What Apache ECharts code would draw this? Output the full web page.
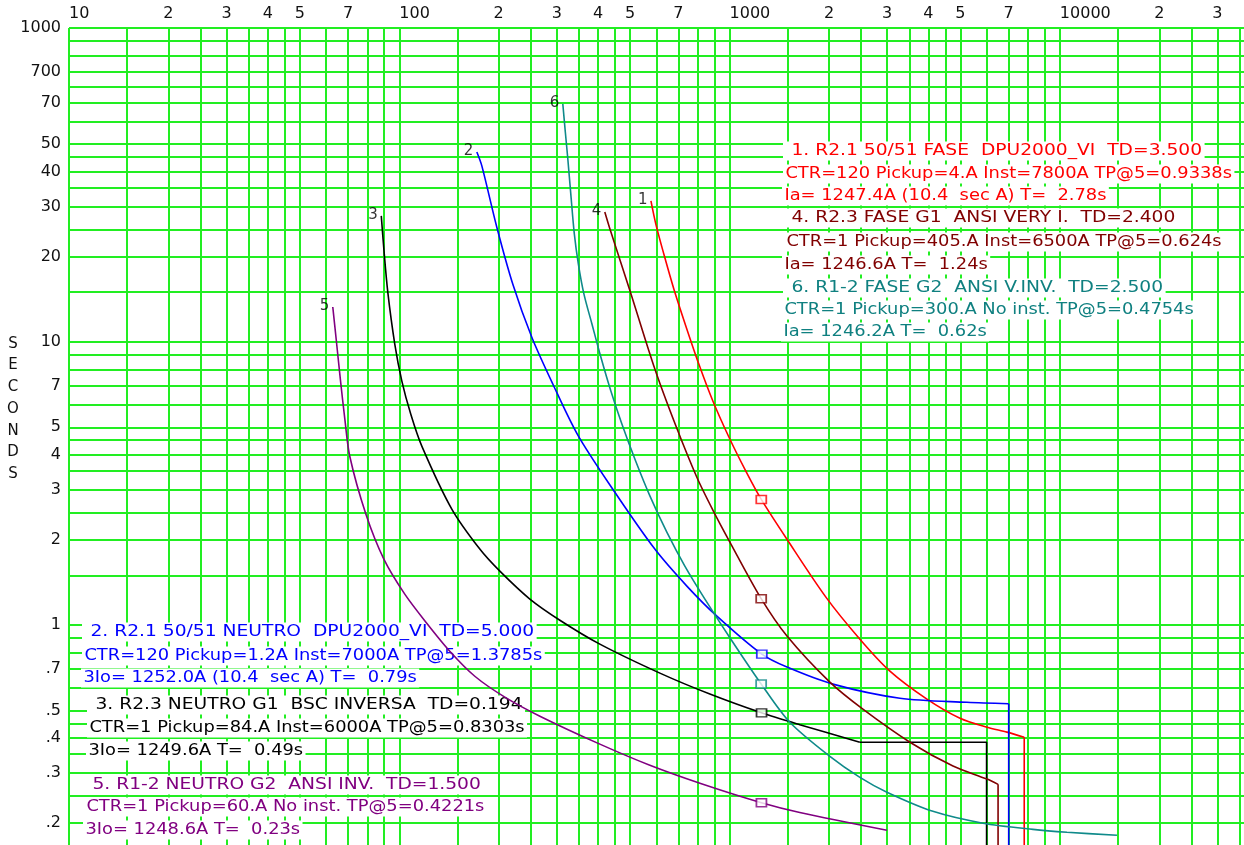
<!DOCTYPE html>
<html><head><meta charset="utf-8">
<script src="https://cdn.jsdelivr.net/npm/echarts@6/dist/echarts.min.js"></script>
<style>html,body{margin:0;padding:0;background:#fff}#c{width:1244px;height:845px}</style>
</head><body><div id="c"></div>
<script>
// ---------------- data ----------------
const gridMantissas = [1, 1.5, 2, 2.5, 3, 3.5, 4, 4.5, 5, 6, 7, 8, 9];
const xDecades = [10, 100, 1000, 10000];
const yDecades = [0.1, 1, 10];
const yTopGrid = [700, 800, 900, 1000];          // values above the axis break
const xMin = 10, xMax = 36100;
const yMin = 0.1673, yMax = 1000;
const yBreak = [90, 700];

const xLabelVals = [10, 20, 30, 40, 50, 70, 100, 200, 300, 400, 500, 700, 1000, 2000, 3000, 4000, 5000, 7000, 10000, 20000, 30000];
const xLabelText = ['10', '2', '3', '4', '5', '7', '100', '2', '3', '4', '5', '7', '1000', '2', '3', '4', '5', '7', '10000', '2', '3'];
const yLabelVals = [1000, 700, 70, 50, 40, 30, 20, 10, 7, 5, 4, 3, 2, 1, 0.7, 0.5, 0.4, 0.3, 0.2];
const yLabelText = ['1000', '700', '70', '50', '40', '30', '20', '10', '7', '5', '4', '3', '2', '1', '.7', '.5', '.4', '.3', '.2'];

// inverse-time parts of the curves: [current (A), time (s)]
const curve1 = [[578,31.5],[598,26.1],[632,20.5],[678,15.4],[737,11.4],[807,8.36],[890,6.19],[995,4.62],[1120,3.5],[1247.4,2.78],[1492,2.01],[1957,1.256],[2481,0.892],[3058,0.688],[3958,0.548],[4984,0.469],[6016,0.436],[6916,0.419],[7800,0.402]];
const curve2 = [[171.7,46.9],[177.8,41.9],[197.3,25.5],[220.7,16.0],[251.9,10.4],[291.6,7.11],[347.2,4.69],[443.1,3.02],[593.9,1.856],[742.5,1.374],[915.3,1.076],[1252,0.79],[1492,0.711],[2055,0.619],[3279,0.552],[5232,0.534],[7000,0.528]];
const curve3 = [[88.2,27.9],[89.8,21.3],[92.3,15.0],[96.9,9.84],[101.8,7.28],[108.3,5.57],[117,4.29],[144.2,2.57],[175.3,1.856],[201.6,1.551],[248.5,1.236],[306.3,1.041],[404.8,0.857],[615.2,0.677],[871.6,0.571],[1249.6,0.49],[1631.5,0.445],[2479,0.386]];
const curve4 = [[419,28.8],[437,24.5],[501,15.0],[594,8.03],[688,5.05],[796,3.33],[890,2.55],[1002,1.965],[1246.6,1.24],[1492,0.915],[2012,0.629],[2533,0.505],[3516,0.386],[4746,0.318],[6016,0.286],[6500,0.274]];
const curve5 = [[62.9,13.3],[64.4,10.25],[66.3,7.4],[68.4,5.35],[70.8,3.95],[79.2,2.47],[89.8,1.711],[103.9,1.287],[121.1,1.016],[142.2,0.809],[169.3,0.66],[208.7,0.557],[266.5,0.477],[404.8,0.38],[573.7,0.32],[813.1,0.2765],[1248.6,0.236],[1631.5,0.218],[2994,0.1887]];
const curve6 = [[312.7,69.3],[318.2,55.2],[323.8,44.3],[330.6,33.3],[338.8,24.1],[348.4,18.9],[362.2,14.8],[382.9,11.6],[407.6,8.85],[437.1,6.71],[472,5.13],[516.7,3.86],[573.7,2.86],[645.7,2.13],[732.1,1.616],[842,1.236],[1009,0.892],[1246.2,0.62],[1522,0.454],[2012,0.344],[2481,0.29],[2995,0.257],[4127,0.22],[5850,0.1998],[8291,0.19],[10508,0.1856],[14890,0.1811]];
// straight definite-time / instantaneous tails
const tail1 = [[7800,0.402],[7800,0.1]];
const tail2 = [[7000,0.528],[7000,0.1]];
const tail3 = [[2479,0.386],[6000,0.386],[6000,0.1]];
const tail4 = [[6500,0.274],[6500,0.1]];
const curves = [curve1, curve2, curve3, curve4, curve5, curve6];
const tails = [tail1, tail2, tail3, tail4, [], []];
const curveNames = ['1', '2', '3', '4', '5', '6'];
const curveColors = ['#ff0000', '#0000ff', '#000000', '#800000', '#800080', '#0f8a8a'];

// operating points (I, T)
const markerI = [1247.4, 1252.0, 1249.6, 1246.6, 1248.6, 1246.2];
const markerT = [2.78, 0.79, 0.49, 1.24, 0.236, 0.62];

// legend texts
const legendRight = [
  ' 1. R2.1 50/51 FASE  DPU2000_VI  TD=3.500',
  'CTR=120 Pickup=4.A Inst=7800A TP@5=0.9338s',
  'Ia= 1247.4A (10.4  sec A) T=  2.78s',
  ' 4. R2.3 FASE G1  ANSI VERY I.  TD=2.400',
  'CTR=1 Pickup=405.A Inst=6500A TP@5=0.624s',
  'Ia= 1246.6A T=  1.24s',
  ' 6. R1-2 FASE G2  ANSI V.INV.  TD=2.500',
  'CTR=1 Pickup=300.A No inst. TP@5=0.4754s',
  'Ia= 1246.2A T=  0.62s'
];
const legendRightColors = ['#ff0000','#ff0000','#ff0000','#800000','#800000','#800000','#0f8080','#0f8080','#0f8080'];
const legendLeft = [
  ' 2. R2.1 50/51 NEUTRO  DPU2000_VI  TD=5.000',
  'CTR=120 Pickup=1.2A Inst=7000A TP@5=1.3785s',
  '3Io= 1252.0A (10.4  sec A) T=  0.79s',
  ' 3. R2.3 NEUTRO G1  BSC INVERSA  TD=0.194',
  'CTR=1 Pickup=84.A Inst=6000A TP@5=0.8303s',
  '3Io= 1249.6A T=  0.49s',
  ' 5. R1-2 NEUTRO G2  ANSI INV.  TD=1.500',
  'CTR=1 Pickup=60.A No inst. TP@5=0.4221s',
  '3Io= 1248.6A T=  0.23s'
];
const legendLeftColors = ['#0000ff','#0000ff','#0000ff','#000000','#000000','#000000','#800080','#800080','#800080'];
const yAxisTitle = 'SECONDS';

// ---------------- layout ----------------
const GRID = {left: 69, right: 0, top: 28, bottom: 0};
const FONT = '"DejaVu Sans", sans-serif';
const GREEN = '#22ee22';
const rightX = [783,783,782,783,784,782,783,782,781];
const rightY = [151,174,196,218,242,265,288,310,332];
const leftX = [82,82,81,87,87,86,84,84,83];
const leftY = [632,656,678,705,728,751,785,807,830];
const TEXT_SCALE = 1.19, HEADER_SCALE = 1.245;

// grid values
const xGrid = [];
xDecades.forEach(d => gridMantissas.forEach(m => { const v = +(m * d).toPrecision(6); if (v <= xMax) xGrid.push(v); }));
const yGrid = [];
yDecades.forEach(d => gridMantissas.forEach(m => { const v = +(m * d).toPrecision(6); if (v >= 0.2 && v <= yBreak[0]) yGrid.push(v); }));
yTopGrid.forEach(v => yGrid.push(v));

const xLines = xGrid.map(v => {
  const li = xLabelVals.indexOf(v);
  const item = {xAxis: v};
  if (li >= 0) {
    const decade = xLabelText[li].length > 1;
    item.label = {show: true, formatter: xLabelText[li], position: 'end', distance: 6,
      color: '#111', fontSize: 16, fontFamily: FONT, align: decade ? 'left' : 'center'};
  }
  return item;
});
const yLines = yGrid.map(v => {
  const li = yLabelVals.indexOf(v);
  const item = {yAxis: v};
  if (li >= 0) {
    item.label = {show: true, formatter: yLabelText[li], position: 'start', distance: 8,
      color: '#111', fontSize: 16, fontFamily: FONT};
  }
  return item;
});

const series = [];
series.push({
  type: 'line', name: 'grid', data: [[xMin, 1]], showSymbol: false, silent: true,
  lineStyle: {opacity: 0},
  markLine: {
    silent: true, symbol: 'none', z: 1, animation: false,
    lineStyle: {color: GREEN, width: 2, type: 'solid'},
    label: {show: false},
    emphasis: {disabled: true},
    data: xLines.concat(yLines)
  }
});
curves.forEach((c, i) => {
  series.push({
    type: 'line', name: 'curve' + curveNames[i], data: c, z: 10, smooth: 0.3,
    symbol: 'none', lineStyle: {color: curveColors[i], width: 1.6},
    itemStyle: {color: curveColors[i]}, clip: true, silent: true
  });
  if (tails[i].length) {
    series.push({
      type: 'line', name: 'tail' + curveNames[i], data: tails[i], z: 10,
      symbol: 'none', lineStyle: {color: curveColors[i], width: 1.6},
      itemStyle: {color: curveColors[i]}, clip: true, silent: true
    });
  }
});
series.push({
  type: 'scatter', name: 'markers', z: 12, silent: true,
  symbol: 'rect', symbolSize: [10, 8],
  data: markerI.map((v, i) => ({value: [v, markerT[i]],
    itemStyle: {color: '#fff', borderColor: curveColors[i], borderWidth: 1.6}}))
});
series.push({
  type: 'scatter', name: 'curveLabels', z: 12, silent: true,
  symbol: 'circle', symbolSize: 1, itemStyle: {color: 'rgba(0,0,0,0)'},
  data: curves.map((c, i) => ({value: c[0], label: {show: true, formatter: curveNames[i]}})),
  label: {show: true, position: 'left', distance: 3, color: '#000', fontSize: 15, fontFamily: FONT, offset: [0, -1]}
});

const graphics = [];
function addText(t, x, y, color, i) {
  graphics.push({type: 'text', x: x, y: y, scaleX: (i % 3 === 0) ? HEADER_SCALE : TEXT_SCALE, z: 5,
    style: {text: t, fill: color, font: '15px ' + FONT, align: 'left', verticalAlign: 'middle',
      backgroundColor: '#fff', padding: [2, 2, 2, 2]}});
}
legendRight.forEach((t, i) => addText(t, rightX[i], rightY[i], legendRightColors[i], i));
legendLeft.forEach((t, i) => addText(t, leftX[i], leftY[i], legendLeftColors[i], i));
graphics.push({type: 'text', x: 13, y: 409, z: 5,
  style: {text: yAxisTitle.split('').join('\n'), fill: '#111', font: '15px ' + FONT, align: 'center',
    verticalAlign: 'middle', lineHeight: 21.7}});

const chart = echarts.init(document.getElementById('c'), null, {renderer: 'canvas'});
chart.setOption({
  animation: false,
  backgroundColor: '#fff',
  grid: GRID,
  xAxis: {type: 'log', logBase: 10, min: xMin, max: xMax, position: 'top',
    axisLine: {show: false}, axisTick: {show: false}, axisLabel: {show: false}, splitLine: {show: false}},
  yAxis: {type: 'log', logBase: 10, min: yMin, max: yMax,
    breaks: [{start: yBreak[0], end: yBreak[1], gap: 0}],
    breakArea: {show: false},
    axisLine: {show: false}, axisTick: {show: false}, axisLabel: {show: false}, splitLine: {show: false}},
  graphic: {elements: graphics},
  series: series
});
</script></body></html>
